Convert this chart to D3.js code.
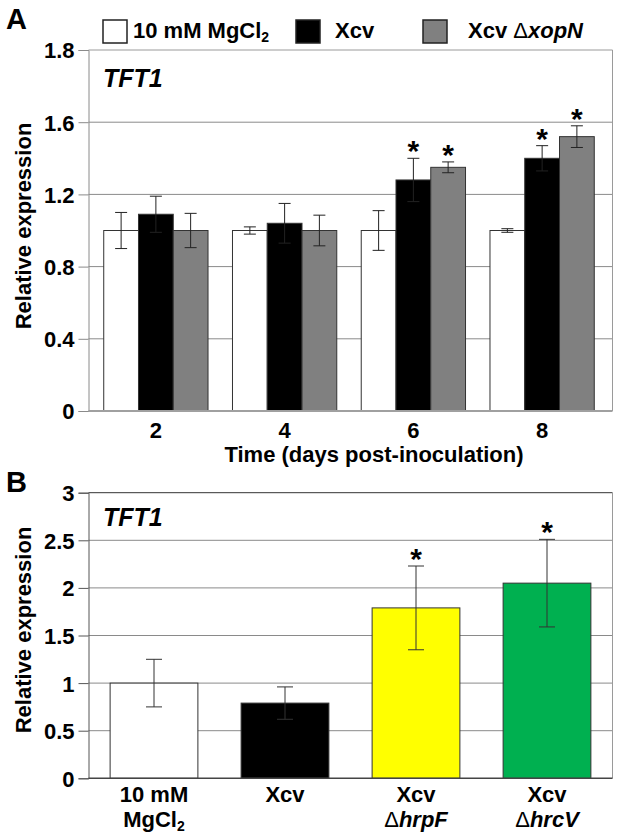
<!DOCTYPE html>
<html><head><meta charset="utf-8">
<script src="https://cdn.jsdelivr.net/npm/d3@7"></script>
<style>body{margin:0;background:#fff}svg{display:block}text{font-family:"Liberation Sans",Arial,sans-serif;font-weight:bold;fill:#000}</style>
</head><body>
<script>
// ---------- Panel A data ----------
const daysA = ["2", "4", "6", "8"];
const seriesA = ["10 mM MgCl2", "Xcv", "Xcv ΔxopN"];
const mockA = [1.00, 1.00, 1.00, 1.00];
const mockAErr = [0.10, 0.02, 0.11, 0.01];
const xcvA = [1.09, 1.04, 1.28, 1.40];
const xcvAErr = [0.10, 0.11, 0.12, 0.07];
const xopnA = [1.00, 1.00, 1.35, 1.52];
const xopnAErr = [0.095, 0.085, 0.03, 0.06];
const mockASig = [0, 0, 0, 0];
const xcvASig = [0, 0, 1, 1];
const xopnASig = [0, 0, 1, 1];
const yTicksA = [0, 0.4, 0.8, 1.2, 1.6, 2.0];
const yTickLabelsA = ["0", "0.4", "0.8", "1.2", "1.6", "1.8"];

// ---------- Panel B data ----------
const catsB = ["10 mM MgCl2", "Xcv", "Xcv ΔhrpF", "Xcv ΔhrcV"];
const valuesB = [1.00, 0.79, 1.79, 2.05];
const errB = [0.25, 0.17, 0.44, 0.46];
const sigB = [0, 0, 1, 1];
const yTicksB = [0, 0.5, 1, 1.5, 2, 2.5, 3];
const yTickLabelsB = ["0", "0.5", "1", "1.5", "2", "2.5", "3"];

const W = 622, H = 840;
const svg = d3.select("body").append("svg").attr("width", W).attr("height", H);
svg.append("rect").attr("width", W).attr("height", H).attr("fill", "#fff");

const fillA = ["#ffffff", "#000000", "#808080"];
const fillB = ["#ffffff", "#000000", "#ffff00", "#00b050"];

// ================= Panel A =================
const A = {left: 88.5, right: 612.5};
const yA = d3.scaleLinear().domain([0, 2.0]).range([411, 50]);
const xA = d3.scaleBand().domain(daysA).range([91.5, 606.5]).paddingInner(0.19).paddingOuter(0.095);
const xAin = d3.scaleBand().domain(seriesA).range([0, xA.bandwidth()]);
const gA = svg.append("g");

gA.selectAll("line.grid").data(yTicksA.slice(1, -1)).join("line")
  .attr("x1", A.left).attr("x2", A.right)
  .attr("y1", d => yA(d)).attr("y2", d => yA(d))
  .attr("stroke", "#8a8a8a").attr("stroke-width", 1);

const axA = d3.axisLeft(yA).tickValues(yTicksA).tickSize(10).tickPadding(4)
  .tickFormat((d, i) => yTickLabelsA[i]);
const axAg = gA.append("g").attr("transform", `translate(${A.left},0)`).call(axA);
axAg.select(".domain").attr("stroke", "#8a8a8a");
axAg.selectAll(".tick line").attr("stroke", "#8a8a8a");
axAg.selectAll(".tick text").attr("font-size", 22).attr("font-family", '"Liberation Sans",Arial,sans-serif').attr("font-weight", "bold").attr("fill", "#000").attr("dy", "0.36em");

gA.append("line").attr("x1", A.left).attr("x2", A.right).attr("y1", yA(2.0)).attr("y2", yA(2.0)).attr("stroke", "#9a9a9a");
gA.append("line").attr("x1", A.right).attr("x2", A.right).attr("y1", yA(2.0)).attr("y2", yA(0)).attr("stroke", "#9a9a9a");

const rowsA = daysA.map((d, i) => ({
  day: d,
  items: [
    {s: seriesA[0], v: mockA[i], e: mockAErr[i], sig: mockASig[i], c: fillA[0]},
    {s: seriesA[1], v: xcvA[i], e: xcvAErr[i], sig: xcvASig[i], c: fillA[1]},
    {s: seriesA[2], v: xopnA[i], e: xopnAErr[i], sig: xopnASig[i], c: fillA[2]}
  ]
}));
const grp = gA.selectAll("g.grp").data(rowsA).join("g").attr("transform", d => `translate(${xA(d.day)},0)`);
grp.selectAll("rect").data(d => d.items).join("rect")
  .attr("x", d => xAin(d.s)).attr("width", xAin.bandwidth())
  .attr("y", d => yA(d.v)).attr("height", d => yA(0) - yA(d.v))
  .attr("fill", d => d.c).attr("stroke", "#333").attr("stroke-width", 1);
grp.selectAll("path.err").data(d => d.items).join("path").attr("class", "err")
  .attr("d", d => {
    const cx = xAin(d.s) + xAin.bandwidth() / 2, t = yA(d.v + d.e), b = yA(d.v - d.e), w = 6;
    return `M${cx},${t}V${b}M${cx - w},${t}H${cx + w}M${cx - w},${b}H${cx + w}`;
  })
  .attr("stroke", "#222").attr("stroke-width", 1).attr("fill", "none");
grp.selectAll("text.sig").data(d => d.items.filter(it => it.sig)).join("text").attr("class", "sig")
  .attr("x", d => xAin(d.s) + xAin.bandwidth() / 2).attr("y", d => yA(d.v + d.e) + 3)
  .attr("text-anchor", "middle").attr("font-size", 30).text("*");

gA.append("line").attr("x1", A.left).attr("x2", A.right).attr("y1", yA(0)).attr("y2", yA(0)).attr("stroke", "#a0a0a0").attr("stroke-width", 2);

gA.selectAll("text.xl").data(daysA).join("text").attr("class", "xl")
  .attr("x", d => xA(d) + xA.bandwidth() / 2).attr("y", 438).attr("text-anchor", "middle").attr("font-size", 22).text(d => d);
gA.append("text").attr("x", 374).attr("y", 462).attr("text-anchor", "middle").attr("font-size", 22).text("Time (days post-inoculation)");
gA.append("text").attr("transform", "translate(31,226) rotate(-90)").attr("text-anchor", "middle").attr("font-size", 22).text("Relative expression");
gA.append("text").attr("x", 103).attr("y", 87).attr("font-size", 25).attr("font-style", "italic").text("TFT1");
svg.append("text").attr("x", 6).attr("y", 29).attr("font-size", 29).text("A");

// legend
const legX = [103, 296, 423];
const legTX = [133, 335, 468];
const leg = svg.append("g");
seriesA.forEach((s, i) => {
  leg.append("rect").attr("x", legX[i]).attr("y", 20).attr("width", 24).attr("height", 23)
    .attr("fill", fillA[i]).attr("stroke", "#222").attr("stroke-width", 1.5);
});
const t0 = leg.append("text").attr("x", legTX[0]).attr("y", 38).attr("font-size", 22);
t0.append("tspan").text("10 mM MgCl");
t0.append("tspan").attr("font-size", 14).attr("dy", 4).text("2");
leg.append("text").attr("x", legTX[1]).attr("y", 38).attr("font-size", 22).text("Xcv");
const t2 = leg.append("text").attr("x", legTX[2]).attr("y", 38).attr("font-size", 22);
t2.append("tspan").text("Xcv ");
t2.append("tspan").attr("font-weight", "normal").text("Δ");
t2.append("tspan").attr("font-style", "italic").text("xopN");

// ================= Panel B =================
const B = {left: 88.5, right: 612.5};
const yB = d3.scaleLinear().domain([0, 3]).range([778.3, 492.7]);
const xB = d3.scaleBand().domain(catsB).range([B.left, B.right]).paddingInner(0.33).paddingOuter(0.165);
const gB = svg.append("g");

gB.selectAll("line.grid").data(yTicksB.slice(1, -1)).join("line")
  .attr("x1", B.left).attr("x2", B.right)
  .attr("y1", d => yB(d)).attr("y2", d => yB(d))
  .attr("stroke", "#8a8a8a").attr("stroke-width", 1);

const axB = d3.axisLeft(yB).tickValues(yTicksB).tickSize(10).tickPadding(4)
  .tickFormat((d, i) => yTickLabelsB[i]);
const axBg = gB.append("g").attr("transform", `translate(${B.left},0)`).call(axB);
axBg.select(".domain").attr("stroke", "#555");
axBg.selectAll(".tick line").attr("stroke", "#555");
axBg.selectAll(".tick text").attr("font-size", 22).attr("font-family", '"Liberation Sans",Arial,sans-serif').attr("font-weight", "bold").attr("fill", "#000").attr("dy", "0.36em");

gB.append("line").attr("x1", B.left).attr("x2", B.right).attr("y1", yB(3)).attr("y2", yB(3)).attr("stroke", "#333");
gB.append("line").attr("x1", B.right).attr("x2", B.right).attr("y1", yB(3)).attr("y2", yB(0)).attr("stroke", "#9a9a9a");

const rowsB = catsB.map((c, i) => ({c, v: valuesB[i], e: errB[i], sig: sigB[i], f: fillB[i]}));
gB.selectAll("rect.bar").data(rowsB).join("rect").attr("class", "bar")
  .attr("x", d => xB(d.c)).attr("width", xB.bandwidth())
  .attr("y", d => yB(d.v)).attr("height", d => yB(0) - yB(d.v))
  .attr("fill", d => d.f).attr("stroke", "#333").attr("stroke-width", 1);
gB.selectAll("path.err").data(rowsB).join("path").attr("class", "err")
  .attr("d", d => {
    const cx = xB(d.c) + xB.bandwidth() / 2, t = yB(d.v + d.e), b = yB(d.v - d.e), w = 8;
    return `M${cx},${t}V${b}M${cx - w},${t}H${cx + w}M${cx - w},${b}H${cx + w}`;
  })
  .attr("stroke", "#333").attr("stroke-width", 1).attr("fill", "none");
gB.selectAll("text.sig").data(rowsB.filter(d => d.sig)).join("text").attr("class", "sig")
  .attr("x", d => xB(d.c) + xB.bandwidth() / 2).attr("y", d => yB(d.v + d.e) + 3)
  .attr("text-anchor", "middle").attr("font-size", 30).text("*");

gB.append("line").attr("x1", B.left).attr("x2", B.right).attr("y1", yB(0)).attr("y2", yB(0)).attr("stroke", "#444").attr("stroke-width", 1.5);

const xlabB = [["10 mM", "MgCl"], ["Xcv", ""], ["Xcv", "hrpF"], ["Xcv", "hrcV"]];
catsB.forEach((c, i) => {
  const cx = xB(c) + xB.bandwidth() / 2;
  gB.append("text").attr("x", cx).attr("y", 802).attr("text-anchor", "middle").attr("font-size", 22).text(xlabB[i][0]);
  if (i === 0) {
    const t = gB.append("text").attr("x", cx).attr("y", 827).attr("text-anchor", "middle").attr("font-size", 22);
    t.append("tspan").text("MgCl");
    t.append("tspan").attr("font-size", 14).attr("dy", 4).text("2");
  } else if (xlabB[i][1]) {
    const t = gB.append("text").attr("x", cx).attr("y", 827).attr("text-anchor", "middle").attr("font-size", 22);
    t.append("tspan").attr("font-weight", "normal").text("Δ");
    t.append("tspan").attr("font-style", "italic").text(xlabB[i][1]);
  }
});
gB.append("text").attr("transform", "translate(31,630) rotate(-90)").attr("text-anchor", "middle").attr("font-size", 22).text("Relative expression");
gB.append("text").attr("x", 103).attr("y", 526).attr("font-size", 25).attr("font-style", "italic").text("TFT1");
svg.append("text").attr("x", 6).attr("y", 492).attr("font-size", 29).text("B");
</script>
</body></html>
